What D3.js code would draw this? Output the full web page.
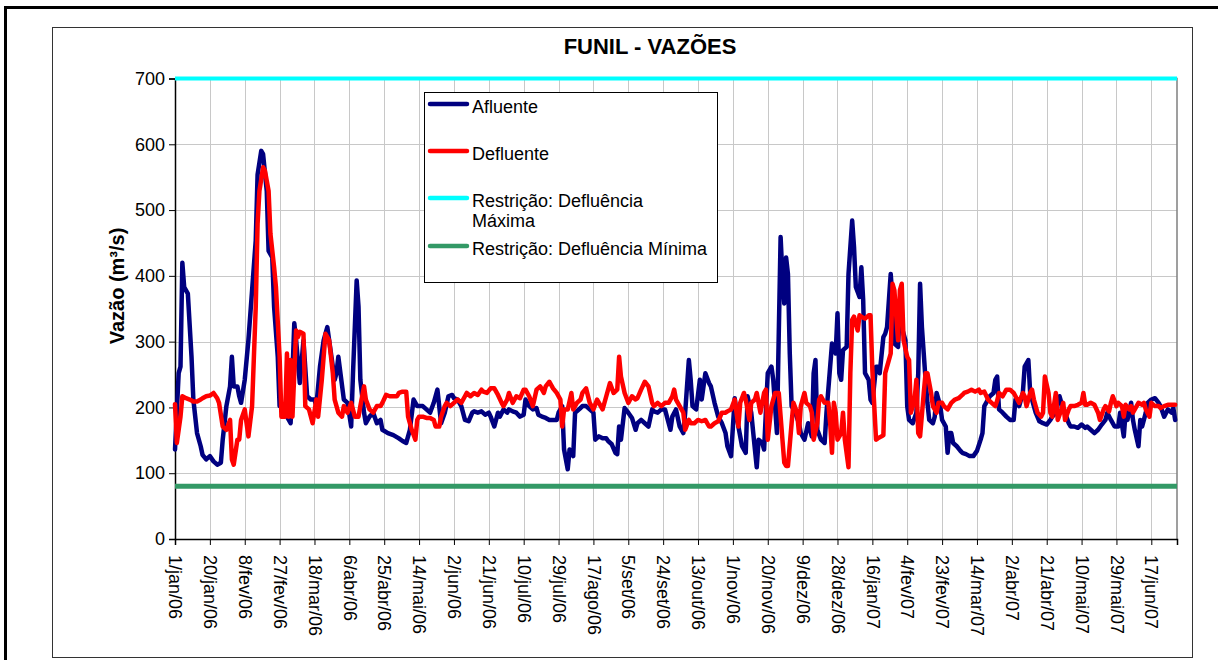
<!DOCTYPE html>
<html>
<head>
<meta charset="utf-8">
<script src="https://cdn.jsdelivr.net/npm/d3@7"></script>
<style>
  body { margin: 0; background: #fff; }
  svg { display: block; font-family: "Liberation Sans", Arial, Helvetica, sans-serif; }
</style>
</head>
<body>
<svg id="chart" width="1218" height="660"></svg>
<script>
const titulo = "FUNIL - VAZÕES";
const rotuloY = "Vazão (m³/s)";
const dataInicio = [2006, 0, 1];
const dataFim = [2007, 6, 1];
const meses = ["jan", "fev", "mar", "abr", "mai", "jun", "jul", "ago", "set", "out", "nov", "dez"];
const rotulosX = ["1/jan/06", "20/jan/06", "8/fev/06", "27/fev/06", "18/mar/06", "6/abr/06", "25/abr/06",
    "14/mai/06", "2/jun/06", "21/jun/06", "10/jul/06", "29/jul/06", "17/ago/06", "5/set/06", "24/set/06",
    "13/out/06", "1/nov/06", "20/nov/06", "9/dez/06", "28/dez/06", "16/jan/07", "4/fev/07", "23/fev/07",
    "14/mar/07", "2/abr/07", "21/abr/07", "10/mai/07", "29/mai/07", "17/jun/07"];
const ticksY = [0, 100, 200, 300, 400, 500, 600, 700];

// [dia desde 1/jan/06, vazao]
const afluente = [[0,136],[2,252],[3,262],[4,420],[5,383],[7,373],[9,277],[10,212],[12,161],[14,141],[15,128],[17,121],[19,126],[21,118],[23,113],[25,116],[26,151],[28,202],[30,232],[31,277],[32,232],[34,232],[35,217],[36,207],[38,242],[40,302],[42,378],[44,454],[45,554],[47,590],[48,585],[50,529],[51,438],[53,428],[54,353],[56,277],[57,202],[59,202],[61,186],[63,176],[65,328],[66,302],[68,237],[70,302],[72,217],[74,212],[76,212],[77,202],[79,262],[81,302],[83,322],[84,302],[87,242],[88,252],[89,277],[92,212],[94,207],[96,171],[97,252],[99,393],[100,353],[101,242],[103,192],[104,176],[106,186],[108,192],[110,176],[112,181],[113,166],[116,161],[119,158],[122,153],[124,149],[126,146],[128,166],[130,212],[132,202],[133,202],[135,202],[137,197],[139,192],[141,207],[143,227],[145,176],[147,192],[149,217],[151,219],[152,214],[154,212],[156,202],[158,181],[160,179],[162,192],[163,194],[165,192],[167,194],[169,189],[171,192],[172,186],[174,171],[176,192],[177,186],[179,197],[181,192],[182,197],[184,194],[186,192],[188,186],[190,189],[191,212],[193,202],[195,197],[197,199],[198,189],[200,186],[202,184],[204,181],[206,181],[208,181],[209,192],[211,202],[212,136],[214,106],[215,136],[217,126],[218,192],[221,199],[222,202],[224,202],[226,197],[228,192],[229,151],[231,156],[233,153],[235,153],[236,149],[238,144],[240,131],[241,129],[242,171],[243,151],[245,199],[247,192],[249,184],[251,166],[252,176],[254,181],[256,176],[258,171],[260,197],[261,194],[263,192],[265,197],[267,197],[269,176],[270,166],[271,186],[273,197],[275,171],[277,161],[278,192],[280,272],[281,242],[282,202],[284,197],[286,242],[287,212],[289,252],[291,237],[292,232],[294,207],[296,186],[298,176],[300,161],[301,141],[303,126],[305,214],[307,171],[309,141],[311,131],[312,217],[314,192],[316,136],[317,109],[318,151],[320,146],[321,136],[323,252],[325,262],[326,242],[328,161],[329,312],[330,459],[331,400],[332,358],[333,428],[334,403],[335,282],[336,202],[338,192],[340,176],[341,161],[343,151],[345,176],[347,156],[348,252],[349,272],[350,166],[352,151],[354,146],[355,192],[357,262],[358,297],[360,282],[361,343],[362,252],[363,242],[364,287],[366,292],[367,403],[369,484],[370,444],[371,383],[373,368],[374,413],[375,363],[376,252],[378,242],[379,212],[380,207],[382,262],[383,262],[384,252],[386,307],[387,312],[388,322],[390,403],[391,363],[392,297],[394,292],[395,353],[396,322],[398,302],[399,202],[400,181],[402,176],[404,192],[405,252],[406,388],[407,322],[409,242],[410,207],[411,181],[413,176],[414,186],[415,222],[417,202],[418,181],[420,171],[421,131],[422,161],[423,161],[424,146],[426,141],[428,134],[429,131],[431,129],[433,126],[435,126],[437,134],[439,151],[440,161],[441,202],[443,212],[444,217],[446,222],[447,242],[448,247],[449,197],[451,192],[453,186],[455,181],[457,181],[458,212],[460,202],[462,222],[463,262],[465,272],[466,222],[468,202],[469,192],[471,179],[473,176],[475,174],[477,181],[478,186],[480,192],[482,217],[483,207],[485,192],[487,176],[488,171],[490,171],[492,169],[494,174],[496,169],[497,171],[499,166],[501,161],[503,166],[505,174],[507,181],[508,192],[510,181],[512,171],[514,171],[515,192],[517,156],[518,192],[519,181],[521,207],[522,181],[523,166],[525,141],[526,181],[527,171],[529,192],[530,207],[532,212],[534,214],[536,207],[537,202],[539,186],[541,197],[543,192],[544,199],[545,181]];

const defluente = [[0,205],[1,146],[3,186],[4,217],[6,214],[8,212],[10,209],[12,209],[14,212],[15,214],[17,217],[19,218],[21,222],[23,214],[24,207],[26,171],[28,166],[30,181],[31,121],[32,113],[34,151],[35,151],[36,181],[38,197],[39,176],[40,156],[42,202],[44,353],[45,479],[46,529],[48,565],[49,560],[51,529],[52,464],[54,413],[55,383],[57,277],[58,186],[60,186],[61,282],[62,186],[63,272],[64,186],[66,317],[67,307],[68,315],[70,312],[71,202],[73,197],[75,176],[77,212],[78,186],[80,242],[82,312],[84,302],[86,252],[87,212],[89,192],[91,186],[92,202],[94,192],[96,207],[98,186],[100,186],[101,202],[103,232],[104,212],[106,197],[108,192],[110,202],[112,202],[113,207],[115,219],[117,217],[119,217],[121,217],[122,222],[124,224],[126,224],[127,186],[129,166],[131,151],[132,181],[133,186],[135,186],[137,184],[139,184],[141,181],[142,171],[144,171],[145,186],[147,202],[148,207],[150,202],[152,207],[154,212],[156,207],[158,217],[159,222],[161,217],[163,222],[165,219],[167,227],[168,224],[170,222],[172,229],[174,229],[176,219],[178,207],[179,202],[181,212],[182,222],[184,207],[186,217],[188,214],[190,227],[191,227],[193,217],[195,202],[197,227],[199,232],[201,222],[202,232],[204,239],[206,229],[208,222],[210,212],[211,171],[212,197],[214,197],[216,222],[217,197],[219,207],[221,212],[222,222],[224,229],[226,207],[228,197],[230,212],[231,207],[233,197],[235,217],[237,237],[239,222],[241,227],[242,277],[243,247],[245,222],[247,207],[249,217],[251,212],[252,214],[254,227],[256,239],[258,232],[260,207],[261,202],[263,207],[265,202],[267,207],[269,207],[271,217],[272,227],[273,212],[275,202],[277,192],[278,166],[280,181],[281,176],[283,176],[285,181],[287,179],[289,181],[291,171],[292,171],[294,176],[296,179],[298,192],[300,192],[301,194],[303,197],[305,212],[307,171],[308,207],[310,222],[311,212],[313,181],[314,207],[316,212],[317,222],[319,192],[321,222],[322,227],[323,151],[325,202],[327,222],[328,222],[329,222],[331,151],[332,116],[333,111],[334,111],[336,176],[337,207],[339,192],[340,161],[341,202],[343,222],[344,207],[346,202],[347,192],[348,151],[350,176],[351,212],[352,217],[354,207],[356,207],[357,176],[358,131],[359,207],[360,192],[361,151],[363,161],[364,192],[365,151],[367,109],[368,252],[369,333],[370,338],[372,317],[373,340],[374,338],[376,335],[378,340],[379,340],[380,257],[382,151],[383,153],[385,156],[386,158],[387,252],[389,272],[390,282],[391,388],[392,378],[394,302],[395,378],[396,388],[397,302],[399,277],[400,272],[401,192],[403,212],[404,242],[405,161],[406,156],[408,222],[409,252],[410,252],[412,222],[413,202],[415,192],[416,207],[418,207],[419,202],[421,197],[423,207],[425,212],[427,214],[429,219],[430,222],[432,224],[434,227],[436,224],[438,227],[439,222],[441,224],[443,212],[445,207],[447,202],[448,210],[449,222],[451,217],[453,227],[455,227],[457,222],[458,217],[460,207],[462,222],[463,217],[464,202],[466,222],[467,227],[468,212],[470,192],[472,186],[473,192],[474,247],[476,222],[477,192],[478,186],[480,222],[481,181],[483,197],[484,207],[485,181],[487,197],[488,202],[490,202],[492,204],[494,207],[495,222],[496,204],[497,204],[499,207],[501,204],[503,192],[504,181],[506,197],[507,202],[509,194],[510,207],[511,217],[513,202],[514,207],[516,202],[517,186],[518,204],[520,197],[521,202],[522,192],[524,202],[525,207],[527,204],[528,207],[529,197],[531,186],[532,207],[534,202],[536,202],[537,199],[539,202],[541,204],[543,204],[545,204]];

const defluenciaMaxima = 700;
const defluenciaMinima = 80;

const legenda = [
    {nome: ["Afluente"], cor: "#000080"},
    {nome: ["Defluente"], cor: "#ff0000"},
    {nome: ["Restrição: Defluência", "Máxima"], cor: "#00ffff"},
    {nome: ["Restrição: Defluência Mínima"], cor: "#339966"}
];

(function (d3) {
    'use strict';

    const svg = d3.select("#chart");
    const left = 175, right = 1177, top = 78.5, bottom = 539;

    const inicio = new Date(Date.UTC(...dataInicio));
    const fim = new Date(Date.UTC(...dataFim));
    const dia = n => d3.utcDay.offset(inicio, n);

    const x = d3.scaleUtc().domain([inicio, fim]).range([left, right]);
    const y = d3.scaleLinear().domain([0, 700]).range([bottom, top]);

    function parseRotulo(s) {
        const p = s.split("/");
        return new Date(Date.UTC(2000 + (+p[2]), meses.indexOf(p[1]), +p[0]));
    }
    const tickDatas = rotulosX.map(parseRotulo);

    // outer frame
    svg.append("path")
        .attr("d", "M5.5,660 L5.5,7.5 L1218,7.5")
        .attr("fill", "none").attr("stroke", "#000").attr("stroke-width", 3);

    // chart area border
    svg.append("rect")
        .attr("x", 52.5).attr("y", 27.5)
        .attr("width", 1140).attr("height", 630)
        .attr("fill", "#fff").attr("stroke", "#333").attr("stroke-width", 1);

    // gridlines
    const grid = svg.append("g").attr("stroke", "#c8c8c8").attr("stroke-width", 1);
    grid.selectAll("line.h").data(ticksY.filter(v => v > 0)).enter().append("line")
        .attr("x1", left).attr("x2", right)
        .attr("y1", d => Math.round(y(d)) + 0.5).attr("y2", d => Math.round(y(d)) + 0.5);
    grid.selectAll("line.v").data(tickDatas.slice(1)).enter().append("line")
        .attr("x1", d => Math.round(x(d)) + 0.5).attr("x2", d => Math.round(x(d)) + 0.5)
        .attr("y1", top).attr("y2", bottom);

    // plot area border (right/top)
    svg.append("path")
        .attr("d", `M${left},${top} L${right},${top} L${right},${bottom}`)
        .attr("fill", "none").attr("stroke", "#808080").attr("stroke-width", 1.5);

    // axes
    const yAxis = d3.axisLeft(y).tickValues(ticksY).tickSize(6).tickPadding(4);
    const gy = svg.append("g").attr("transform", `translate(${left},0)`).call(yAxis);
    gy.select(".domain").attr("stroke", "#000").attr("stroke-width", 1.5);
    gy.selectAll("text").attr("font-size", 18).attr("fill", "#000")
        .attr("font-family", "'Liberation Sans', Arial, sans-serif");

    const xAxis = d3.axisBottom(x).tickValues(tickDatas).tickSize(6).tickFormat((d, i) => rotulosX[i]);
    const gx = svg.append("g").attr("transform", `translate(0,${bottom})`).call(xAxis);
    gx.select(".domain").attr("stroke", "#000").attr("stroke-width", 1.5);
    gx.selectAll("text")
        .attr("font-size", 18).attr("fill", "#000")
        .attr("font-family", "'Liberation Sans', Arial, sans-serif")
        .attr("transform", "rotate(90)")
        .attr("x", 16).attr("y", 0).attr("dy", "0.35em")
        .attr("text-anchor", "start");

    // series
    const linha = d3.line().x(d => x(dia(d[0]))).y(d => y(d[1]));

    svg.append("path").datum(afluente)
        .attr("d", linha).attr("fill", "none")
        .attr("stroke", "#000080").attr("stroke-width", 4.5)
        .attr("stroke-linejoin", "round").attr("stroke-linecap", "round");

    svg.append("path").datum(defluente)
        .attr("d", linha).attr("fill", "none")
        .attr("stroke", "#ff0000").attr("stroke-width", 4.5)
        .attr("stroke-linejoin", "round").attr("stroke-linecap", "round");

    svg.append("line")
        .attr("x1", left).attr("x2", right)
        .attr("y1", y(defluenciaMaxima)).attr("y2", y(defluenciaMaxima))
        .attr("stroke", "#00ffff").attr("stroke-width", 4);

    svg.append("line")
        .attr("x1", left).attr("x2", right)
        .attr("y1", y(defluenciaMinima)).attr("y2", y(defluenciaMinima))
        .attr("stroke", "#339966").attr("stroke-width", 5);

    // title
    svg.append("text")
        .attr("x", 650).attr("y", 54)
        .attr("text-anchor", "middle")
        .attr("font-size", 22).attr("font-weight", "bold")
        .text(titulo);

    // y label
    svg.append("text")
        .attr("transform", "translate(124,286) rotate(-90)")
        .attr("text-anchor", "middle")
        .attr("font-size", 20).attr("font-weight", "bold")
        .text(rotuloY);

    // legend
    const leg = svg.append("g");
    leg.append("rect")
        .attr("x", 424.5).attr("y", 92.5).attr("width", 293).attr("height", 190)
        .attr("fill", "#fff").attr("stroke", "#000").attr("stroke-width", 1);

    const linhaY = [104, 151, 198, 246];
    legenda.forEach((s, i) => {
        leg.append("line")
            .attr("x1", 430).attr("x2", 467)
            .attr("y1", linhaY[i]).attr("y2", linhaY[i])
            .attr("stroke", s.cor).attr("stroke-width", 4.5).attr("stroke-linecap", "round");
        s.nome.forEach((t, j) => {
            leg.append("text")
                .attr("x", 472).attr("y", linhaY[i] + 9 + j * 20)
                .attr("font-size", 18)
                .text(t);
        });
    });

}(d3));
</script>
</body>
</html>
